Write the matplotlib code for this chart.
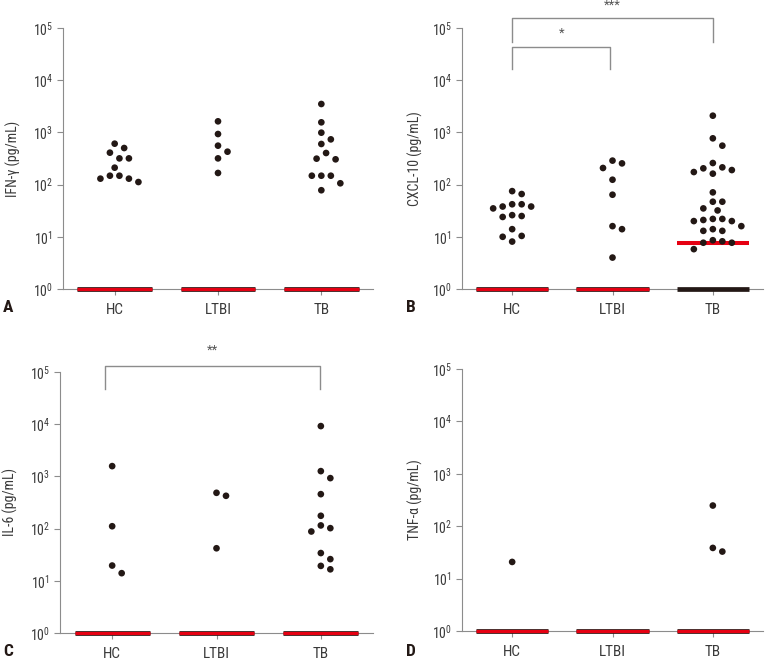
import numpy as np
import matplotlib
matplotlib.use("Agg")
import matplotlib.pyplot as plt
from matplotlib import font_manager

names = {f.name for f in font_manager.fontManager.ttflist}
narrow = 'Liberation Sans'
for cand in ['Roboto Condensed', 'Archivo Narrow', 'PT Sans Narrow',
             'Liberation Sans Narrow', 'Open Sans Condensed']:
    if cand in names:
        narrow = cand
        break
plt.rcParams['font.family'] = [narrow, 'DejaVu Sans']
plt.rcParams['mathtext.fontset'] = 'custom'
plt.rcParams['mathtext.rm'] = narrow
plt.rcParams['mathtext.it'] = narrow
plt.rcParams['mathtext.default'] = 'regular'

categories = ["HC", "LTBI", "TB"]

# Panel A: IFN-gamma (pg/mL)
ifn_hc = [148, 130, 112, 130, 148, 211, 318, 318, 409, 502, 608]
ifn_ltbi = [1630, 931, 557, 427, 318, 167]
ifn_tb = [3500, 1560, 988, 736, 600, 403, 314, 305, 148, 148, 148, 106, 78]
ifn_median = [1, 1, 1]

# Panel B: CXCL-10 (pg/mL)
cxcl_hc = [75, 66, 42, 38, 42, 38, 35, 26, 24, 25, 14, 10, 10.4, 8.1]
cxcl_ltbi = [255, 288, 208, 124, 64, 14, 16, 4.0]
cxcl_tb = [2090, 770, 557, 214, 190, 259, 162, 174, 205, 71, 47, 47, 35, 32,
           22, 22, 20, 20, 21, 16, 13, 13, 14, 8.2, 7.7, 8.6, 7.7, 5.8]
cxcl_median = [1, 1, 7.6]

# Panel C: IL-6 (pg/mL)
il6_hc = [1574, 111, 19.6, 14]
il6_ltbi = [425, 485, 42]
il6_tb = [9200, 1262, 927, 457, 176, 102, 88, 115, 34, 26, 19.3, 16.6]
il6_median = [1, 1, 1]

# Panel D: TNF-alpha (pg/mL)
tnf_hc = [20.8]
tnf_ltbi = []
tnf_tb = [248, 38.5, 32.8]
tnf_median = [1, 1, 1]

ylabels = ["IFN-\u03b3 (pg/mL)", "CXCL-10 (pg/mL)", "IL-6 (pg/mL)", "TNF-\u03b1 (pg/mL)"]
letters = ["A", "B", "C", "D"]

DOT = '#231815'
AXC = '#8c8c8c'
RED = '#e60012'
TXT = '#3a3a3a'

fig = plt.figure(figsize=(7.66, 6.6), dpi=100)
rects = [
    [63/766, 1-289/660, 310/766, 261/660],
    [462/766, 1-289/660, 301/766, 261/660],
    [60/766, 1-633/660, 313/766, 261/660],
    [462/766, 1-631/660, 301/766, 262/660],
]
panels = [
    (ifn_hc, ifn_ltbi, ifn_tb, ifn_median),
    (cxcl_hc, cxcl_ltbi, cxcl_tb, cxcl_median),
    (il6_hc, il6_ltbi, il6_tb, il6_median),
    (tnf_hc, tnf_ltbi, tnf_tb, tnf_median),
]


def swarm(values, px_per_decade, px_per_unit, dist=9.5):
    """Simple beeswarm: returns x offsets (data units) for values."""
    vals = np.asarray(values, dtype=float)
    order = np.argsort(-vals)
    ys = np.log10(vals) * px_per_decade
    placed = []
    offs = np.zeros(len(vals))
    step = dist / 2.0
    cands = [0.0]
    for k in range(1, 12):
        cands += [k * step, -k * step]
    for i in order:
        for c in cands:
            ok = True
            for (px, py) in placed:
                if (c - px) ** 2 + (ys[i] - py) ** 2 < (dist * 0.97) ** 2:
                    ok = False
                    break
            if ok:
                offs[i] = c / px_per_unit
                placed.append((c, ys[i]))
                break
    return offs


for p, (rect, data) in enumerate(zip(rects, panels)):
    ax = fig.add_axes(rect)
    ax.set_yscale('log')
    ax.set_ylim(1, 1e5)
    ax.set_xlim(-0.5, 2.5)
    w_px = rect[2] * 766
    px_unit = w_px / 3.0
    px_dec = rect[3] * 660 / 5.0
    groups = data[:3]
    med = data[3]
    for gi, vals in enumerate(groups):
        ax.plot([gi - 0.36, gi + 0.36], [1, 1], color='#231815', lw=3.4,
                solid_capstyle='butt', zorder=3, clip_on=False)
        ax.plot([gi - 0.36, gi + 0.36], [med[gi], med[gi]], color=RED,
                lw=2.3 if med[gi] == 1 else 2.9, solid_capstyle='butt',
                zorder=4, clip_on=False)
        if len(vals):
            offs = swarm(vals, px_dec, px_unit)
            ax.scatter(gi + offs, vals, s=23, color=DOT, edgecolors='none',
                       zorder=5, clip_on=False)
    for s in ['top', 'right']:
        ax.spines[s].set_visible(False)
    for s in ['left', 'bottom']:
        ax.spines[s].set_color(AXC)
        ax.spines[s].set_linewidth(0.8)
    ax.set_yticks([1, 10, 100, 1e3, 1e4, 1e5])
    ax.set_yticklabels([r'$10^{%d}$' % k for k in range(6)])
    ax.yaxis.set_minor_locator(matplotlib.ticker.NullLocator())
    ax.set_xticks([0, 1, 2])
    ax.set_xticklabels(categories)
    ax.tick_params(axis='both', colors=AXC, length=4, width=0.8)
    ax.tick_params(axis='y', labelsize=10, labelcolor=TXT, pad=3)
    ax.tick_params(axis='x', labelsize=11, labelcolor=TXT, pad=6)
    ax.set_ylabel(ylabels[p], fontsize=10, color=TXT)
    if p in (0, 2):
        ax.yaxis.set_label_coords(-0.135, 0.5)
    else:
        ax.yaxis.set_label_coords(-0.13, 0.5)
    lx = 8 if p in (0, 2) else 411
    ly = 308 if p < 2 else 652
    fig.text(lx / 766, 1 - ly / 660, letters[p], fontsize=12.5, fontweight='bold',
             ha='center', va='center', color='#231815')

    def bracket(x0, x1, ytop, yleg0, yleg1, label, ylab):
        ax.plot([x0, x0, x1, x1], [10 ** yleg0, 10 ** ytop, 10 ** ytop, 10 ** yleg1],
                color=AXC, lw=1.0, clip_on=False)
        ax.text((x0 + x1) / 2, 10 ** ylab, label, ha='center', va='center',
                fontsize=9.5, color='#555555', clip_on=False)

    if p == 1:
        bracket(0, 2, 5.19, 4.73, 4.73, '***', 5.43)
        bracket(0, 0.98, 4.64, 4.21, 4.21, '*', 4.90)
    if p == 2:
        bracket(-0.07, 1.99, 5.115, 4.67, 4.67, '**', 5.42)

fig.savefig('out.png', dpi=100)
